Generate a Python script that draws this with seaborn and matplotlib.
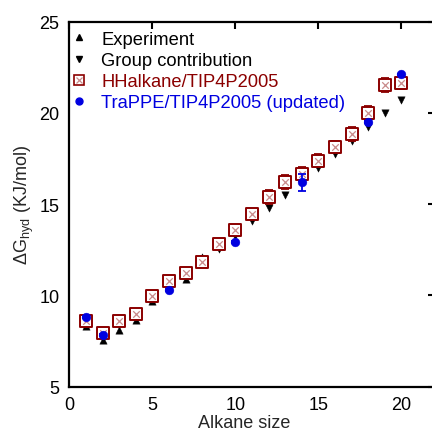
import matplotlib
matplotlib.use("Agg")
import matplotlib.pyplot as plt
import seaborn as sns
import numpy as np
import pandas as pd
from matplotlib.lines import Line2D

# ---- data ----
exp_n = [1, 2, 3, 4, 5, 6, 7, 8]
exp_g = [8.31, 7.58, 8.12, 8.63, 9.71, 10.45, 10.90, 12.09]

grp_n = [9, 10, 11, 12, 13, 14, 15, 16, 17, 18, 19, 20]
grp_g = [12.54, 13.24, 14.06, 14.79, 15.52, 16.25, 16.98, 17.75, 18.44, 19.21, 19.98, 20.73]

hh_n = list(range(1, 21))
hh_g = [8.58, 7.94, 8.58, 8.98, 9.99, 10.77, 11.23, 11.83, 12.80, 13.58,
        14.44, 15.39, 16.21, 16.65, 17.38, 18.15, 18.84, 20.00, 21.53, 21.64]
hh_err = [0.10, 0.10, 0.10, 0.10, 0.12, 0.12, 0.12, 0.12, 0.15, 0.15,
          0.18, 0.38, 0.37, 0.37, 0.35, 0.33, 0.37, 0.38, 0.37, 0.33]

tr_n = [1, 2, 6, 10, 14, 18, 20]
tr_g = [8.82, 7.85, 10.32, 12.95, 16.20, 19.50, 22.11]
tr_err = [0.05, 0.05, 0.05, 0.05, 0.45, 0.05, 0.05]

labels = ["Experiment", "Group contribution", "HHalkane/TIP4P2005", "TraPPE/TIP4P2005 (updated)"]

sns.set_theme(style="white")
plt.rcParams['font.family'] = ['Liberation Sans', 'DejaVu Sans']
plt.rcParams['mathtext.fontset'] = 'custom'
plt.rcParams['mathtext.rm'] = 'Liberation Sans'
plt.rcParams['mathtext.it'] = 'Liberation Sans'

DR = '#8b0000'
BL = '#0000e0'

fig = plt.figure(figsize=(4.32, 4.31), dpi=100)
ax = fig.add_axes([69.3 / 432, 43.3 / 431, 365.3 / 432, 365.0 / 431])

df_exp = pd.DataFrame({"n": exp_n, "g": exp_g})
df_grp = pd.DataFrame({"n": grp_n, "g": grp_g})
df_hh = pd.DataFrame({"n": hh_n, "g": hh_g, "e": hh_err})
df_tr = pd.DataFrame({"n": tr_n, "g": tr_g, "e": tr_err})

sns.scatterplot(data=df_exp, x="n", y="g", marker="^", color="black", s=28,
                edgecolor="black", linewidth=0.3, ax=ax, zorder=3)
sns.scatterplot(data=df_grp, x="n", y="g", marker="v", color="black", s=28,
                edgecolor="black", linewidth=0.3, ax=ax, zorder=3)

ax.errorbar(df_hh["n"], df_hh["g"], yerr=df_hh["e"], fmt="none", ecolor=DR,
            elinewidth=1.3, capsize=3, capthick=1.3, zorder=4)
sns.scatterplot(data=df_hh, x="n", y="g", marker="s", s=66, facecolor="white",
                edgecolor=DR, linewidth=1.4, ax=ax, zorder=5)
sns.scatterplot(data=df_hh, x="n", y="g", marker="x", s=22, color="#c98a8a",
                linewidth=0.9, ax=ax, zorder=6)

ax.errorbar(df_tr["n"], df_tr["g"], yerr=df_tr["e"], fmt="none", ecolor=BL,
            elinewidth=1.3, capsize=3, capthick=1.3, zorder=7)
sns.scatterplot(data=df_tr, x="n", y="g", marker="o", s=40, color=BL,
                edgecolor=BL, linewidth=0.3, ax=ax, zorder=8)

ax.set_xlim(0, 22)
ax.set_ylim(5, 25)
ax.set_xticks([0, 5, 10, 15, 20])
ax.set_yticks([5, 10, 15, 20, 25])
ax.tick_params(direction="in", length=5, width=1.5, top=True, right=True,
               labelsize=13, pad=7, colors="black")
for sp in ax.spines.values():
    sp.set_linewidth(1.6)
    sp.set_color("black")

ax.set_xlabel("Alkane size", fontsize=13)
ax.set_ylabel(r"ΔG$_{\mathrm{hyd}}$ (KJ/mol)", fontsize=13)
ax.xaxis.set_label_coords(0.478, -0.075)
ax.yaxis.set_label_coords(-0.09, 0.5)

h1 = Line2D([], [], marker="^", color="black", linestyle="none", markersize=5)
h2 = Line2D([], [], marker="v", color="black", linestyle="none", markersize=5)
h3a = Line2D([], [], marker="s", markerfacecolor="white", markeredgecolor=DR,
             markeredgewidth=1.2, linestyle="none", markersize=7.5)
h3b = Line2D([], [], marker="x", color="#c98a8a", markeredgewidth=0.9,
             linestyle="none", markersize=4.5)
h4 = Line2D([], [], marker="o", color=BL, linestyle="none", markersize=5)
leg = ax.legend([h1, h2, (h3a, h3b), h4], labels, loc="upper left", frameon=False,
                fontsize=13.2, handlelength=1.0, handletextpad=0.75,
                labelspacing=0.22, borderaxespad=0.3,
                bbox_to_anchor=(-0.035, 1.01))
for t, c in zip(leg.get_texts(), ["black", "black", DR, BL]):
    t.set_color(c)

fig.savefig("out.png", dpi=100)
